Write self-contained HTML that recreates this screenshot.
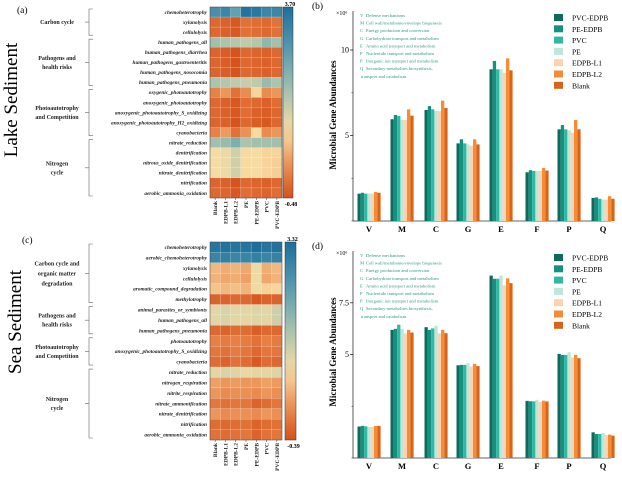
<!DOCTYPE html>
<html><head><meta charset="utf-8"><style>
html,body{margin:0;padding:0;background:#fff;}
svg{display:block;font-family:"Liberation Serif",serif;}
</style></head><body>
<svg id="s" width="622" height="481" viewBox="0 0 622 481"></svg>
<script>
const cols=["Blank","EDPB-L1","EDPB-L2","PE","PE-EDPB","PVC","PVC-EDPB"];
const rowsA=["chemoheterotrophy","xylanolysis","cellulolysis","human_pathogens_all","human_pathogens_diarrhea","human_pathogens_gastroenteritis","human_pathogens_nosocomia","human_pathogens_pneumonia","oxygenic_photoautotrophy","anoxygenic_photoautotrophy","anoxygenic_photoautotrophy_S_oxidizing","anoxygenic_photoautotrophy_H2_oxidizing","cyanobacteria","nitrate_reduction","denitrification","nitrous_oxide_denitrification","nitrate_denitrification","nitrification","aerobic_ammonia_oxidation"];
const valsA=[[3.0,3.2,2.6,3.6,3.5,3.2,3.2],[-0.2,-0.3,-0.4,-0.1,-0.15,-0.2,-0.1],[-0.2,-0.3,-0.4,-0.1,-0.15,-0.2,-0.1],[1.9,1.8,1.7,1.6,1.7,2.1,1.9],[-0.25,-0.35,-0.45,-0.2,-0.25,-0.3,-0.2],[-0.25,-0.35,-0.45,-0.2,-0.25,-0.3,-0.2],[-0.25,-0.35,-0.45,-0.2,-0.25,-0.3,-0.2],[1.8,1.7,1.6,1.5,1.6,2.0,1.8],[0.1,0.3,-0.1,0.2,0.9,0.2,0.3],[-0.2,-0.3,-0.4,-0.15,-0.2,-0.3,-0.15],[-0.2,-0.3,-0.4,-0.15,-0.3,-0.35,-0.2],[-0.25,-0.3,-0.45,-0.2,-0.35,-0.4,-0.2],[0.1,0.35,-0.1,0.25,0.95,0.2,0.3],[1.9,2.0,2.3,1.8,1.9,1.9,1.9],[1.0,1.1,1.4,0.95,1.0,0.9,0.9],[1.0,1.1,1.4,0.95,1.0,0.9,0.85],[1.0,1.1,1.4,0.95,1.0,0.9,0.85],[-0.25,-0.3,-0.45,-0.2,-0.25,-0.3,-0.2],[-0.2,-0.25,-0.4,-0.15,-0.2,-0.25,-0.15]];
const rangeA=[-0.48,3.70];
const groupsA=[{lab:["Carbon cycle"],r0:0,r1:2},{lab:["Pathogens and","health risks"],r0:3,r1:7},{lab:["Photoautotrophy","and Competition"],r0:8,r1:12},{lab:["Nitrogen","cycle"],r0:13,r1:18}];
const rowsC=["chemoheterotrophy","aerobic_chemoheterotrophy","xylanolysis","cellulolysis","aromatic_compound_degradation","methylotrophy","animal_parasites_or_symbionts","human_pathogens_all","human_pathogens_pneumonia","photoautotrophy","anoxygenic_photoautotrophy_S_oxidizing","cyanobacteria","nitrate_reduction","nitrogen_respiration","nitrite_respiration","nitrate_ammonification","nitrate_denitrification","nitrification","aerobic_ammonia_oxidation"];
const valsC=[[3.2,3.25,3.2,3.2,3.3,3.2,3.25],[2.9,3.0,2.9,2.9,3.0,2.9,2.95],[0.6,0.5,0.55,0.45,1.0,0.5,0.6],[0.55,0.45,0.5,0.4,1.0,0.45,0.55],[0.7,0.6,0.65,0.55,1.0,0.8,0.85],[-0.2,-0.2,-0.15,-0.15,-0.3,-0.2,-0.2],[1.1,1.2,1.1,1.1,1.15,1.1,1.3],[1.1,1.2,1.1,1.1,1.15,1.1,1.3],[-0.15,-0.2,-0.1,-0.1,-0.25,-0.15,-0.15],[0.1,0.05,0.1,0.05,-0.05,0.1,0.05],[0.0,-0.05,0.05,0.0,-0.15,0.0,0.0],[-0.1,-0.2,-0.05,-0.1,-0.3,-0.1,-0.15],[1.1,1.2,1.15,1.05,1.1,1.1,1.15],[0.4,0.3,0.35,0.3,0.3,0.4,0.35],[0.3,0.2,0.25,0.25,0.2,0.3,0.25],[0.0,-0.05,0.0,0.0,-0.2,-0.1,0.0],[0.3,0.2,0.25,0.25,0.2,0.3,0.25],[-0.1,-0.15,-0.1,-0.05,-0.2,-0.1,-0.05],[-0.05,-0.1,-0.05,0,-0.2,-0.05,0]];
const rangeC=[-0.39,3.32];
const groupsC=[{lab:["Carbon cycle and","organic matter","degradation"],r0:0,r1:5},{lab:["Pathogens and","health risks"],r0:6,r1:8},{lab:["Photoautotrophy","and Competition"],r0:9,r1:11},{lab:["Nitrogen","cycle"],r0:12,r1:18}];
const cats=["V","M","C","G","E","F","P","Q"];
const series=["PVC-EDPB","PE-EDPB","PVC","PE","EDPB-L1","EDPB-L2","Blank"];
const valsB=[[1.6,5.95,6.49,4.54,8.87,2.85,5.36,1.35],[1.65,6.2,6.72,4.78,9.36,2.97,5.61,1.38],[1.6,6.14,6.53,4.54,8.87,2.93,5.36,1.3],[1.6,5.91,6.43,4.48,8.87,2.93,5.3,1.25],[1.6,5.91,6.43,4.39,8.67,2.93,5.17,1.25],[1.7,6.53,7.04,4.78,9.51,3.1,5.91,1.45],[1.65,6.16,6.61,4.48,8.81,2.95,5.36,1.3]];
const valsD=[[1.52,6.19,6.32,4.48,8.81,2.76,5.03,1.24],[1.55,6.24,6.19,4.5,8.66,2.74,4.98,1.16],[1.53,6.44,6.26,4.5,8.66,2.74,4.98,1.16],[1.5,6.23,6.39,4.58,8.81,2.81,5.11,1.21],[1.5,6.02,6.02,4.42,8.34,2.71,4.85,1.11],[1.55,6.19,6.19,4.55,8.68,2.77,4.98,1.13],[1.55,6.06,6.03,4.44,8.45,2.73,4.82,1.08]];
const ticksB=[5,10];
const ticksD=[5,7.5];
const abbrKey=["V","M","C","G","E","F","P","Q",""];
const abbrTxt=["Defense mechanisms","Cell wall/membrane/envelope biogenesis","Energy production and conversion","Carbohydrate transport and metabolism","Amino acid transport and metabolism","Nucleotide transport and metabolism","Inorganic ion transport and metabolism","Secondary metabolites biosynthesis,","transport and catabolism"];
const colors=["#0d6b5d","#15917f","#2fb9a3","#bfe6d8","#fcd3b2","#f68c33","#d8641c"];

const S=document.getElementById('s');const NS="http://www.w3.org/2000/svg";
function mk(t,a,p){const e=document.createElementNS(NS,t);for(const k in a)e.setAttribute(k,a[k]);(p||S).appendChild(e);return e;}
function tx(x,y,s,a,p){const e=mk('text',Object.assign({x:x,y:y},a),p);e.textContent=s;return e;}
const stops=[[0,[212,82,28]],[0.15,[232,134,74]],[0.35,[247,221,164]],[0.55,[169,195,173]],[0.75,[95,159,176]],[1,[28,111,156]]];
function cmap(t){t=Math.max(0,Math.min(1,t));for(let i=1;i<stops.length;i++){if(t<=stops[i][0]){const a=stops[i-1],b=stops[i];const f=(t-a[0])/(b[0]-a[0]);const c=a[1].map((v,k)=>Math.round(v+(b[1][k]-v)*f));return `rgb(${c})`;}}return 'rgb(28,111,156)';}

function heat(rows,vals,range,groups,y0,y1,cbx,cbw,lblTop,lblBot,nm){
  const g=mk('g',{});
  const x0=210,x1=282,cw=(x1-x0)/cols.length,rh=(y1-y0)/rows.length;
  vals.forEach((r,i)=>r.forEach((v,j)=>{const c=mk('rect',{x:x0+j*cw,y:y0+i*rh,width:cw,height:rh,fill:cmap((v-range[0])/(range[1]-range[0])),stroke:'#fff','stroke-opacity':0.35,'stroke-width':0.4},g);}));
  mk('rect',{x:x0,y:y0,width:x1-x0,height:y1-y0,fill:'none',stroke:'#333','stroke-width':0.5},g);
  rows.forEach((r,i)=>{const t=tx(207,y0+(i+0.5)*rh+1.8,r,{'font-size':5.3,'font-style':'italic','font-weight':'bold','text-anchor':'end',fill:'#222'},g);});
  cols.forEach((c,j)=>{const cx=x0+(j+0.5)*cw;const t=tx(0,0,c,{'font-size':5.5,'font-weight':'bold','text-anchor':'end',fill:'#222',transform:`translate(${cx+2},${y1+3}) rotate(-90)`},g);mk('line',{x1:cx,x2:cx,y1:y1,y2:y1+2,stroke:'#333','stroke-width':0.5},g);});
  groups.forEach(gr=>{const ya=y0+gr.r0*rh+2,yb=y0+(gr.r1+1)*rh-2,ym=(ya+yb)/2;
    mk('path',{d:`M93,${ya}H89V${yb}H93M89,${ym}H85`,fill:'none',stroke:'#666','stroke-width':0.6},g);
    const n=gr.lab.length,lh=gr.lab.length>2?10:9;
    gr.lab.forEach((l,k)=>{const t=tx(57,ym+(k-(n-1)/2)*lh+2,l,{'font-size':6,'font-weight':'bold','text-anchor':'middle',fill:'#222'},g);});});
  const defs=mk('defs',{},g);const lg=mk('linearGradient',{id:'cb'+nm,x1:0,y1:1,x2:0,y2:0},defs);
  for(let k=0;k<=10;k++)mk('stop',{offset:k/10,'stop-color':cmap(k/10)},lg);
  const cb=mk('rect',{x:cbx,y:y0,width:cbw,height:y1-y0,fill:`url(#cb${nm})`,stroke:'#333','stroke-width':0.5},g);
  tx(cbx+cbw/2+2,y0-1,lblTop,{'font-size':6,'font-weight':'bold','text-anchor':'middle'},g);
  tx(cbx+cbw/2+3,y1+8,lblBot,{'font-size':6,'font-weight':'bold','text-anchor':'middle'},g);
}
heat(rowsA,valsA,rangeA,groupsA,7,198,283,10,"3.70","-0.48","heatmap-lake");
heat(rowsC,valsC,rangeC,groupsC,242,440,285,11,"3.32","-0.39","heatmap-sea");

function bars(vals,ticks,base,unit,top,nm,lbl,yl){
  const g=mk('g',{});
  const y=v=>base-v*unit;const ax=353,ax1=611,cx=[369,402,436,468,501,537,569,603];
  mk('line',{x1:ax,x2:ax,y1:top,y2:base,stroke:'#333','stroke-width':0.8},g);
  mk('line',{x1:ax,x2:ax1,y1:base,y2:base,stroke:'#333','stroke-width':0.8},g);
  ticks.forEach(t=>{mk('line',{x1:ax-3,x2:ax,y1:y(t),y2:y(t),stroke:'#333','stroke-width':0.8},g);tx(ax-4,y(t)+2.5,String(t),{'font-size':8,'text-anchor':'end'},g);});
  for(let t=0;y(t)>top;t+=2.5)mk('line',{x1:ax-1.5,x2:ax,y1:y(t),y2:y(t),stroke:'#333','stroke-width':0.6},g);
  vals.forEach((s,j)=>s.forEach((v,i)=>{const b=mk('rect',{x:cx[i]-11.5+j*3.3,y:y(v),width:3.3,height:base-y(v),fill:colors[j]},g);}));
  cats.forEach((c,i)=>{const t=tx(cx[i],base+11,c,{'font-size':8.5,'font-weight':'bold','text-anchor':'middle'},g);});
  tx(336,top+4,"×10⁶",{'font-size':6},g);
  tx(312,top-2,lbl,{'font-size':9.5},g);
  const at=tx(0,0,"Microbial Gene Abundances",{'font-size':9,'font-weight':'bold','text-anchor':'middle',transform:`translate(336,${yl}) rotate(-90)`},g);
  abbrTxt.forEach((a,k)=>{const yy=top+6+k*7.6;tx(360,yy,abbrKey[k],{'font-size':4.6,fill:'#2a9a80'},g);tx(k===8?361:366,yy,a,{'font-size':4.6,fill:'#2a9a80'},g);});
  series.forEach((s,k)=>{const ly=top+3+k*11.3;const r=mk('rect',{x:554,y:ly,width:9,height:7,fill:colors[k]},g);const t=tx(572,ly+6.5,s,{'font-size':7.5},g);});
}
bars(valsB,ticksB,221,17.1,11,"bar-chart-lake","(b)",115);
bars(valsD,ticksD,458,20.7,251,"bar-chart-sea","(d)",352);

let t;
t=tx(0,0,"Lake Sediment",{'font-size':19,'text-anchor':'middle',transform:'translate(17,100) rotate(-90)'});
t=tx(0,0,"Sea Sediment",{'font-size':19,'text-anchor':'middle',transform:'translate(21,322) rotate(-90)'});
tx(17,13,"(a)",{'font-size':9.5});
tx(22,243,"(c)",{'font-size':9.5});
</script>
</body></html>
